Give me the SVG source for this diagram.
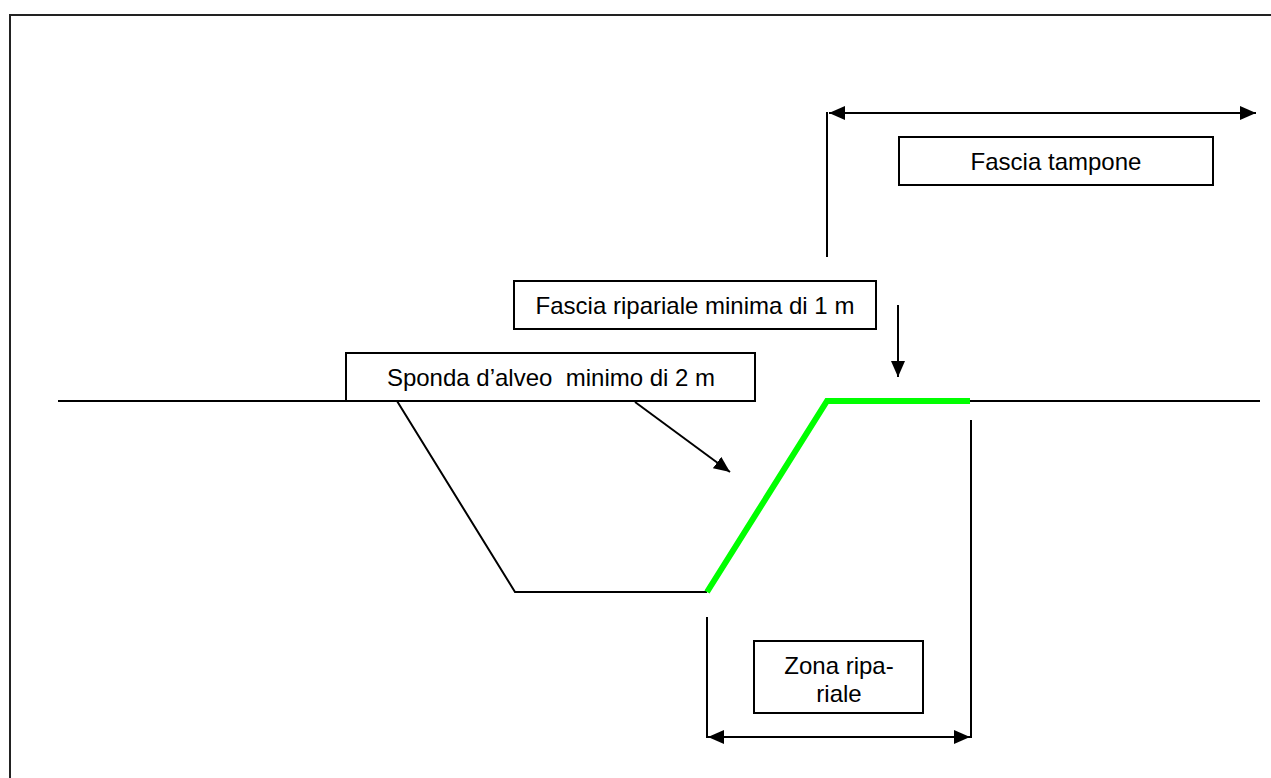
<svg xmlns="http://www.w3.org/2000/svg" width="1271" height="778" viewBox="0 0 1271 778">
<style>
.ln{stroke:#000;stroke-width:2;fill:none}
.box{fill:#fff;stroke:#000;stroke-width:2}
.lbl{font-family:"Liberation Sans",Arial,sans-serif;font-size:24px;fill:#000;text-anchor:middle;white-space:pre}
.green{stroke:#00ff00;stroke-width:6;fill:none;stroke-linejoin:miter}
</style>
<defs>
<marker id="ah" viewBox="0 0 16 14" refX="16" refY="7" markerWidth="16" markerHeight="14" markerUnits="userSpaceOnUse" orient="auto-start-reverse">
<path d="M0,0 L16,7 L0,14 Z" fill="#000"/>
</marker>
</defs>
<rect width="1271" height="778" fill="#fff"/>
<g id="frame">
<path d="M10,778 L10,15 L1271,15" stroke="#222" stroke-width="2" fill="none"/>
</g>
<g id="section">
<path class="ln" d="M58,401 L397,401 L515,592 L707,592"/>
<path class="ln" d="M970,401 L1260,401"/>
<polyline class="green" points="707,592 827,401 970,401"/>
</g>
<g id="connectors">
<path class="ln" d="M827,257 L827,112"/>
<path class="ln" d="M829,113 L1256,113" marker-start="url(#ah)" marker-end="url(#ah)"/>
<path class="ln" d="M898,305 L898,377" marker-end="url(#ah)"/>
<path class="ln" d="M635,402 L730,472" marker-end="url(#ah)"/>
<path class="ln" d="M707,617 L707,738"/>
<path class="ln" d="M971,420 L971,738"/>
<path class="ln" d="M708,737 L970,737" marker-start="url(#ah)" marker-end="url(#ah)"/>
</g>
<g id="fascia-tampone">
<rect class="box" x="899" y="137" width="314" height="48"/>
<text class="lbl" x="1056" y="170">Fascia tampone</text>
</g>
<g id="fascia-ripariale">
<rect class="box" x="514" y="281" width="362" height="48"/>
<text class="lbl" x="695" y="314">Fascia ripariale minima di 1 m</text>
</g>
<g id="sponda">
<rect class="box" x="346" y="353" width="409" height="48"/>
<text class="lbl" x="551" y="386" xml:space="preserve">Sponda d’alveo  minimo di 2 m</text>
</g>
<g id="zona-ripariale">
<rect class="box" x="754" y="641" width="169" height="72"/>
<text class="lbl" x="839" y="674">Zona ripa-</text>
<text class="lbl" x="839" y="702">riale</text>
</g>
</svg>
